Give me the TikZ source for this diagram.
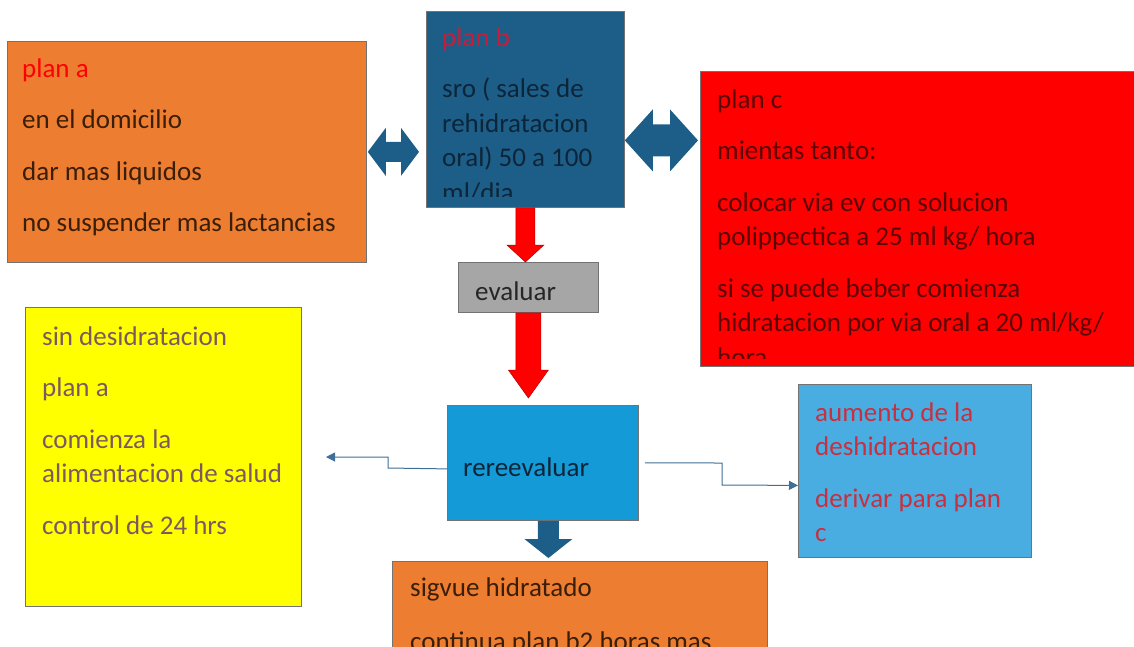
\documentclass[tikz,border=0pt]{standalone}
\usepackage{fontspec}
\setmainfont{Carlito}
\usetikzlibrary{arrows.meta,calc}

\definecolor{naranja}{HTML}{ED7D31}
\definecolor{azulB}{HTML}{1D5E88}
\definecolor{azulRe}{HTML}{149AD6}
\definecolor{celeste}{HTML}{49ADE1}
\definecolor{gris}{HTML}{A6A6A6}
\definecolor{amarillo}{HTML}{FFFF00}
\definecolor{azulLinea}{HTML}{3E6F96}
\definecolor{rojoOsc}{HTML}{B00000}
\definecolor{txtNaranja}{HTML}{3A1E08}
\definecolor{txtAzul}{HTML}{0C2538}
\definecolor{txtRojo}{HTML}{5A0505}
\definecolor{txtAmarillo}{HTML}{7A5A60}
\definecolor{txtCeleste}{HTML}{C83040}
\definecolor{rotulo}{HTML}{C41E3A}

\newcommand{\arriba}{\rule{0pt}{21pt}}

\tikzset{
  caja/.style={draw=black!55, line width=0.8pt, inner sep=0pt, anchor=north west},
  txt/.style={anchor=north west, yshift=18pt, align=left, inner sep=0pt, font=\fontsize{27}{34.5}\selectfont},
  enlace/.style={azulLinea, line width=1pt, -{Triangle[length=9pt,width=9pt]}},
}

% block arrow pointing down: [style]{top}{tip}{shaft}{head}{head length}
\newcommand{\flechaAbajo}[6][]{%
  \path[#1] let \p1=#2, \p2=#3 in
    (\x2-#4pt,\y1) -- (\x2+#4pt,\y1) -- (\x2+#4pt,\y2+#6pt) -- (\x2+#5pt,\y2+#6pt)
    -- (\p2) -- (\x2-#5pt,\y2+#6pt) -- (\x2-#4pt,\y2+#6pt) -- cycle;}
% block arrow with two heads: [style]{left}{right}{shaft}{head}{head length}
\newcommand{\flechaDoble}[6][]{%
  \path[#1] let \p1=#2, \p2=#3 in
    (\p1) -- (\x1+#6pt,\y1+#5pt) -- (\x1+#6pt,\y1+#4pt) -- (\x2-#6pt,\y1+#4pt)
    -- (\x2-#6pt,\y1+#5pt) -- (\x2,\y1) -- (\x2-#6pt,\y1-#5pt) -- (\x2-#6pt,\y1-#4pt)
    -- (\x1+#6pt,\y1-#4pt) -- (\x1+#6pt,\y1-#5pt) -- cycle;}

\begin{document}
\begin{tikzpicture}[x=1pt, y=-1pt]
  \useasboundingbox (0,0) rectangle (1134,646);
  \clip (0,0) rectangle (1134,646);

  \node[caja, fill=naranja, minimum width=359, minimum height=221] (planA) at (7,41) {};
  \node[caja, fill=azulB, minimum width=198, minimum height=196] (planB) at (426,11) {};
  \node[caja, fill=red, minimum width=440, minimum height=295] (planC) at (700,71) {};
  \node[caja, fill=gris, minimum width=140, minimum height=50] (evaluar) at (458,262) {};
  \node[caja, fill=azulRe, minimum width=191, minimum height=115] (reevaluar) at (447,405) {};
  \node[caja, fill=amarillo, minimum width=276, minimum height=299] (sinDes) at (25,307) {};
  \node[caja, fill=celeste, minimum width=233, minimum height=173] (aumento) at (798,384) {};
  \node[caja, fill=naranja, minimum width=375, minimum height=100] (sigue) at (392,561) {};

  \node[txt, text=txtNaranja] (planAtxt) at (22,74)
    {\arriba\textcolor{red}{plan a}\\[17pt] en el domicilio\\[17pt] dar mas liquidos\\[17pt] no suspender mas lactancias};
  \begin{scope}
    \clip (planB.north west) rectangle ([yshift=11pt]planB.south east);
    \node[txt, text=txtAzul] (planBtxt) at (442,43)
      {\arriba\textcolor{rotulo}{plan b}\\[17pt] sro ( sales de\\ rehidratacion\\ oral) 50 a 100\\ ml/dia};
  \end{scope}
  \begin{scope}
    \clip (planC.north west) rectangle ([yshift=8pt]planC.south east);
    \node[txt, text=txtRojo] (planCtxt) at (717,105)
      {\arriba plan c\\[17pt] mientas tanto:\\[17pt] colocar via ev con solucion\\ polippectica a 25 ml kg/ hora\\[17pt]
       si se puede beber comienza\\ hidratacion por via oral a 20 ml/kg/\\ hora};
  \end{scope}
  \node[txt, text=black!85] (evaluarTxt) at (475,297) {\arriba evaluar};
  \node[txt, text=txtAzul] (reevaluarTxt) at (463,473) {\arriba rereevaluar};
  \node[txt, text=txtAmarillo] (sinDesTxt) at (42,342)
    {\arriba sin desidratacion\\[17pt] plan a\\[17pt] comienza la\\ alimentacion de salud\\[17pt] control de 24 hrs};
  \node[txt, text=txtCeleste] (aumentoTxt) at (815,418)
    {\arriba aumento de la\\ deshidratacion\\[17pt] derivar para plan\\ c};
  \node[txt, text=txtNaranja] (sigueTxt) at (410,593)
    {\arriba sigvue hidratado\\[20pt] continua plan b2 horas mas};

  % flechas
  \flechaDoble[fill=azulB]{([xshift=1pt]planA.east)}{([xshift=-7pt]planB.west |- planA.east)}{10}{24}{18}
  \flechaDoble[fill=azulB]{([yshift=-31pt]planB.east)}{([yshift=-31pt,xshift=-2pt]planC.west |- planB.east)}{16}{31}{28}
  \flechaAbajo[fill=red, draw=rojoOsc, line width=0.5pt]{(planB.south)}{(planB.south |- evaluar.north)}{9.5}{18.5}{17}
  \flechaAbajo[fill=red, draw=rojoOsc, line width=0.5pt]{(evaluar.south)}{([yshift=7pt]evaluar.south |- reevaluar.north)}{12.5}{20}{28}
  \flechaAbajo[fill=azulB]{([xshift=5.5pt]reevaluar.south)}{([xshift=5.5pt,yshift=3pt]reevaluar.south |- sigue.north)}{10.5}{24}{19}

  \coordinate (izq) at (326,457);
  \draw[enlace] ([yshift=-6pt]reevaluar.west) -- (388,468) -- (388,457) -- (izq);
  \draw[enlace] ([xshift=6pt]reevaluar.east) -- (722,463) -- (722,485) -- ([yshift=-14.5pt]aumento.west);
\end{tikzpicture}
\end{document}
